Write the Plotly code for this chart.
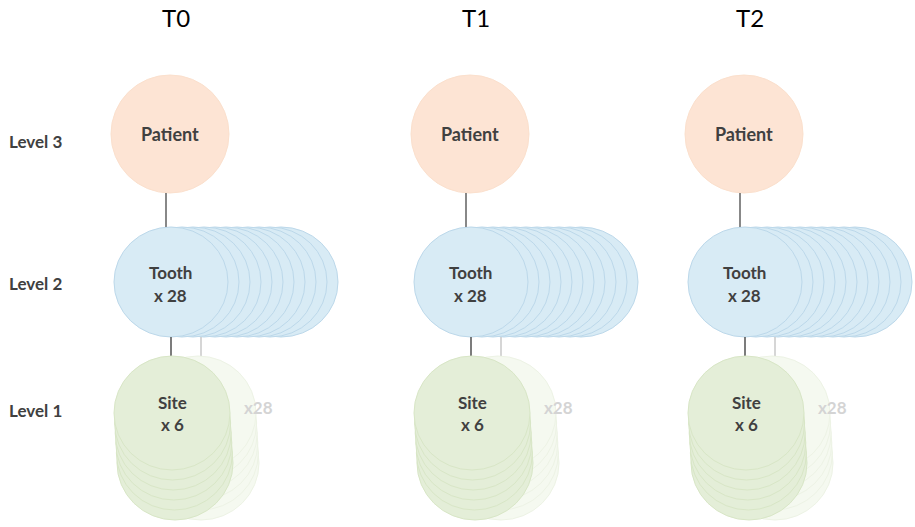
import plotly.graph_objects as go

# ---- data ----
time_points = ["T0", "T1", "T2"]
level_labels = ["Level 3", "Level 2", "Level 1"]
node_labels = ["Patient", "Tooth", "Site"]
teeth_per_patient = 28
sites_per_tooth = 6
tooth_copies_drawn = 11

# ---- layout constants (pixel-like coordinate system) ----
W, H = 915, 527
col_cx = [171, 471, 745]          # centre x of each time column
title_y = 17
level_y = [141, 283, 410]
patient_cy, patient_r = 134, 59
tooth_cy, tooth_rx, tooth_ry = 282, 57, 55
tooth_step = 11
site_cy, site_rx, site_ry = 413, 58, 57
site_step = 10
ghost_dx = 27

FONT = "Lato"
patient_fill, patient_line = "#fde4d4", "#fbe0cd"
tooth_fill, tooth_line = "#d8ebf5", "#bcd8ea"
site_fill, site_line = "#e4eed8", "#d8e6c6"
text_col = "#404040"

shapes = []
annotations = []

def ellipse(cx, cy, rx, ry, fill, line, opacity=1.0, lw=1):
    shapes.append(dict(type="circle", xref="x", yref="y",
                       x0=cx - rx, x1=cx + rx, y0=cy - ry, y1=cy + ry,
                       fillcolor=fill, line=dict(color=line, width=lw),
                       opacity=opacity, layer="above"))

def vline(x, y0, y1, color, width=1.5):
    shapes.append(dict(type="line", xref="x", yref="y", x0=x, x1=x, y0=y0, y1=y1,
                       line=dict(color=color, width=width), layer="above"))

def text(x, y, s, size, color=text_col, bold=True):
    annotations.append(dict(x=x, y=y, xref="x", yref="y", text=(f"<b>{s}</b>" if bold else s),
                            showarrow=False, font=dict(family=FONT, size=size, color=color),
                            xanchor="center", yanchor="middle"))

for i, tp in enumerate(time_points):
    cx = col_cx[i]
    annotations.append(dict(x=cx + 5, y=title_y, xref="x", yref="y", text=tp, showarrow=False,
                            font=dict(family=FONT, size=24, color="#000000"),
                            xanchor="center", yanchor="middle"))
    # patient
    ellipse(cx - 1, patient_cy, patient_r, patient_r, patient_fill, patient_line)
    text(cx - 1, patient_cy, node_labels[0], 18)
    vline(cx - 5, patient_cy + patient_r, tooth_cy - tooth_ry, "#606060")

    # tooth stack (back copies first)
    for k in range(tooth_copies_drawn - 1, -1, -1):
        ellipse(cx + k * tooth_step, tooth_cy, tooth_rx, tooth_ry, tooth_fill, tooth_line)
    text(cx - 1, tooth_cy - 10, node_labels[1], 17)
    text(cx - 1, tooth_cy + 13, f"x {teeth_per_patient}", 17)

    # connectors tooth -> site
    vline(cx, tooth_cy + tooth_ry, site_cy - site_ry, "#505050")
    vline(cx + 30, tooth_cy + tooth_ry, site_cy - site_ry + 1, "#c8c8c8")

    # ghost site stack (other teeth)
    for k in range(sites_per_tooth - 1, -1, -1):
        ellipse(cx + ghost_dx + k * 0.6, site_cy + k * site_step, site_rx, site_ry,
                "#f5f9f0", "#edf3e5")
    text(cx + ghost_dx + 60, site_cy - 6, f"x{teeth_per_patient}", 17, color="#d4d4d4")

    # site stack
    for k in range(sites_per_tooth - 1, -1, -1):
        ellipse(cx + 1 + k * 0.6, site_cy + k * site_step, site_rx, site_ry, site_fill, site_line)
    text(cx + 1, site_cy - 11, node_labels[2], 17)
    text(cx + 1, site_cy + 11, f"x {sites_per_tooth}", 17)

for j, lab in enumerate(level_labels):
    annotations.append(dict(x=7, y=level_y[j], xref="x", yref="y", text=f"<b>{lab}</b>",
                            showarrow=False, font=dict(family=FONT, size=17, color=text_col),
                            xanchor="left", yanchor="middle"))

fig = go.Figure()
fig.add_trace(go.Scatter(x=[0, W], y=[0, H], mode="markers", marker=dict(opacity=0),
                         hoverinfo="skip", showlegend=False))
fig.update_layout(
    width=W, height=H, margin=dict(l=0, r=0, t=0, b=0),
    paper_bgcolor="white", plot_bgcolor="white",
    xaxis=dict(range=[0, W], visible=False, fixedrange=True),
    yaxis=dict(range=[H, 0], visible=False, fixedrange=True),
    shapes=shapes, annotations=annotations, showlegend=False,
)
fig.write_html("out.html", config={"displayModeBar": False},
               post_script="document.body.style.margin='0px';document.body.style.overflow='hidden';")
